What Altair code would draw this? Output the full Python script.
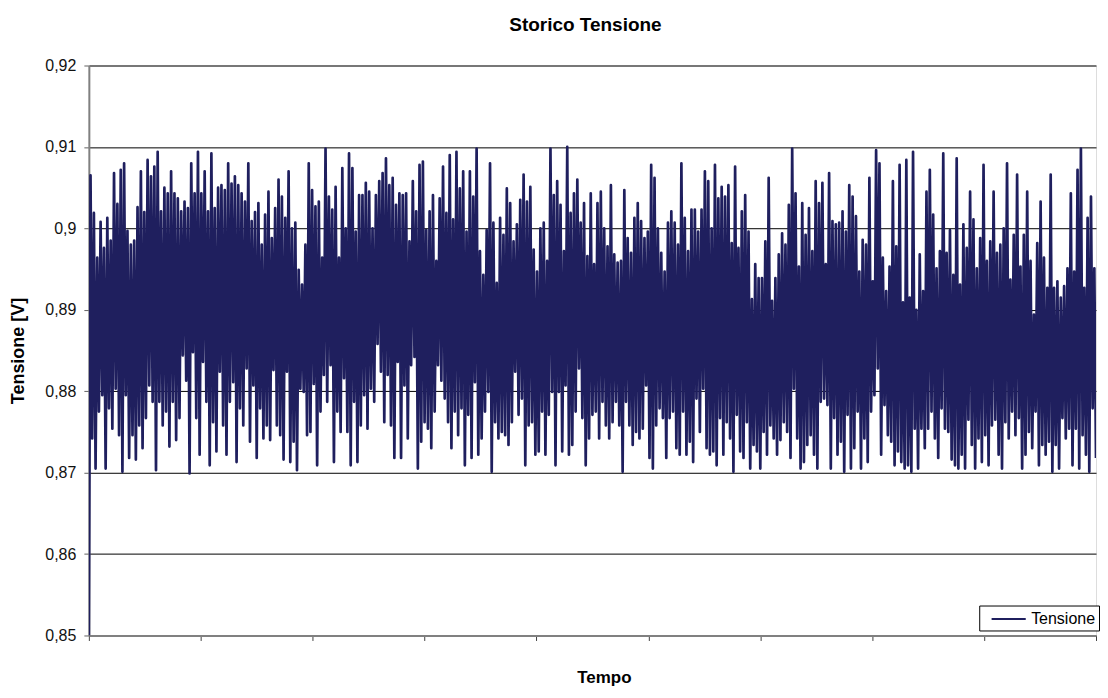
import altair as alt
import pandas as pd

# ---- data (volts) ----
start_value = [0.85]

tops_1 = [0.9065, 0.9019, 0.8964, 0.9008, 0.8976, 0.9013, 0.8985, 0.9068, 0.9030, 0.9072,
          0.9080, 0.8997, 0.8980, 0.8985, 0.9026, 0.9070, 0.9020, 0.9084, 0.9064, 0.9076,
          0.9094, 0.9021, 0.9050, 0.9043, 0.9070, 0.9043, 0.9037, 0.9021, 0.9033, 0.9025,
          0.9080, 0.9043, 0.9094, 0.9043, 0.9070, 0.9021, 0.9092, 0.9025, 0.9050, 0.9053,
          0.9047, 0.9080, 0.9055, 0.9064, 0.9053, 0.9043, 0.9033, 0.9080, 0.9009, 0.9020]
tops_2 = [0.9031, 0.8980, 0.9017, 0.9045, 0.8988, 0.9025, 0.9060, 0.9039, 0.9013, 0.9070,
          0.9000, 0.9007, 0.8949, 0.8931, 0.8980, 0.9080, 0.9047, 0.9027, 0.9033, 0.8964,
          0.9098, 0.9039, 0.9023, 0.9051, 0.8964, 0.9074, 0.9000, 0.9092, 0.9074, 0.8996,
          0.9041, 0.9041, 0.9056, 0.9045, 0.9000, 0.9041, 0.9058, 0.9068, 0.9086, 0.9053,
          0.9062, 0.9029, 0.9043, 0.9041, 0.9043, 0.8984, 0.9058, 0.9021, 0.9078, 0.9082]
tops_3 = [0.8998, 0.9021, 0.9041, 0.8960, 0.9037, 0.9076, 0.9019, 0.9090, 0.9011, 0.9094,
          0.9049, 0.9070, 0.8996, 0.9070, 0.9039, 0.9098, 0.8972, 0.8943, 0.8998, 0.9080,
          0.9007, 0.8933, 0.9013, 0.8992, 0.9049, 0.9031, 0.8984, 0.9005, 0.9035, 0.9066,
          0.9033, 0.9051, 0.8974, 0.8947, 0.9000, 0.9007, 0.8960, 0.9098, 0.9041, 0.9058,
          0.9029, 0.8972, 0.9100, 0.9019, 0.9043, 0.9060, 0.9007, 0.9031, 0.8966, 0.9043]
tops_4 = [0.8956, 0.9031, 0.9045, 0.9000, 0.8978, 0.9053, 0.8968, 0.8958, 0.8960,
          0.9047, 0.8988, 0.8970, 0.9013, 0.9031, 0.9009, 0.8988, 0.8996,
          0.9078, 0.9062, 0.9000, 0.8970, 0.8947, 0.9007, 0.9021, 0.9007,
          0.8980, 0.9080, 0.9013, 0.8972, 0.9023, 0.9023, 0.8996, 0.9023,
          0.9070, 0.9058, 0.9000, 0.9078, 0.9037, 0.9051, 0.9039, 0.9053, 0.8982,
          0.9076, 0.8976, 0.9021, 0.9041, 0.8996, 0.8913, 0.8956, 0.8939]
tops_5 = [0.8939, 0.8984, 0.9062, 0.8911, 0.8939, 0.8968, 0.8994, 0.8980, 0.9029, 0.9098,
          0.9043, 0.8953, 0.9031, 0.8992, 0.9025, 0.8972, 0.9058, 0.9031, 0.9056, 0.8956,
          0.9068, 0.9009, 0.9005, 0.9007, 0.9021, 0.8996, 0.9053, 0.9039, 0.9015, 0.8947,
          0.8986, 0.8980, 0.9062, 0.8935, 0.9096, 0.9080, 0.8964, 0.8923, 0.8953, 0.9058,
          0.8978, 0.9078, 0.8909, 0.9084, 0.8915, 0.9094, 0.8900, 0.8968, 0.8923, 0.9045]
tops_6 = [0.9072, 0.9017, 0.8951, 0.8972, 0.9092, 0.8970, 0.8998, 0.8943, 0.9086, 0.8931,
          0.9005, 0.8976, 0.9045, 0.9011, 0.8951, 0.8988, 0.9078, 0.8960, 0.8984, 0.9045,
          0.8970, 0.8980, 0.9000, 0.9080, 0.8937, 0.8992, 0.9066, 0.8953, 0.8992, 0.9045,
          0.8960, 0.8894, 0.8982, 0.9033, 0.8964, 0.8927, 0.9066, 0.8927, 0.8935, 0.8915,
          0.8929, 0.8951, 0.9043, 0.8947, 0.9072, 0.9098, 0.8927, 0.9013, 0.9039, 0.8951]

bottoms_1 = [0.8742, 0.8705, 0.8775, 0.8795, 0.8705, 0.8779, 0.8754, 0.8803, 0.8746, 0.8701,
             0.8795, 0.8718, 0.8746, 0.8716, 0.8758, 0.8730, 0.8767, 0.8807, 0.8787, 0.8703,
             0.8787, 0.8758, 0.8775, 0.8732, 0.8787, 0.8740, 0.8767, 0.8844, 0.8813, 0.8699,
             0.8848, 0.8767, 0.8722, 0.8836, 0.8787, 0.8709, 0.8762, 0.8726, 0.8824, 0.8758,
             0.8722, 0.8787, 0.8811, 0.8713, 0.8779, 0.8758, 0.8828, 0.8738, 0.8807, 0.8718]
bottoms_2 = [0.8779, 0.8742, 0.8758, 0.8740, 0.8826, 0.8758, 0.8746, 0.8716, 0.8824, 0.8713,
             0.8738, 0.8703, 0.8803, 0.8799, 0.8746, 0.8750, 0.8809, 0.8709, 0.8775, 0.8820,
             0.8787, 0.8832, 0.8713, 0.8775, 0.8750, 0.8816, 0.8750, 0.8709, 0.8787, 0.8713,
             0.8758, 0.8795, 0.8754, 0.8803, 0.8787, 0.8858, 0.8824, 0.8762, 0.8820, 0.8758,
             0.8718, 0.8836, 0.8718, 0.8807, 0.8742, 0.8832, 0.8842, 0.8705, 0.8738, 0.8762]
bottoms_3 = [0.8754, 0.8730, 0.8775, 0.8832, 0.8813, 0.8791, 0.8762, 0.8730, 0.8775, 0.8746,
             0.8779, 0.8709, 0.8771, 0.8718, 0.8811, 0.8722, 0.8742, 0.8775, 0.8799, 0.8701,
             0.8762, 0.8742, 0.8750, 0.8746, 0.8734, 0.8762, 0.8824, 0.8771, 0.8791, 0.8709,
             0.8758, 0.8762, 0.8722, 0.8726, 0.8775, 0.8722, 0.8771, 0.8799, 0.8709, 0.8799,
             0.8726, 0.8807, 0.8722, 0.8734, 0.8775, 0.8828, 0.8767, 0.8709, 0.8742, 0.8771]
bottoms_4 = [0.8775, 0.8742, 0.8787, 0.8758, 0.8742, 0.8762, 0.8787, 0.8758, 0.8701, 0.8787,
             0.8758, 0.8734, 0.8750, 0.8742, 0.8754, 0.8807, 0.8718, 0.8705, 0.8758, 0.8779,
             0.8767, 0.8718, 0.8767, 0.8775, 0.8730, 0.8722, 0.8775, 0.8722, 0.8738, 0.8713,
             0.8791, 0.8750, 0.8803, 0.8730, 0.8722, 0.8726, 0.8709, 0.8767, 0.8722, 0.8762,
             0.8742, 0.8701, 0.8771, 0.8726, 0.8718, 0.8762, 0.8705, 0.8734, 0.8726, 0.8705]
bottoms_5 = [0.8750, 0.8722, 0.8758, 0.8742, 0.8722, 0.8740, 0.8762, 0.8750, 0.8718, 0.8803,
             0.8742, 0.8705, 0.8713, 0.8734, 0.8746, 0.8722, 0.8705, 0.8787, 0.8791, 0.8783,
             0.8705, 0.8767, 0.8722, 0.8738, 0.8701, 0.8771, 0.8705, 0.8730, 0.8775, 0.8705,
             0.8742, 0.8713, 0.8775, 0.8795, 0.8828, 0.8722, 0.8783, 0.8746, 0.8738, 0.8709,
             0.8726, 0.8713, 0.8705, 0.8709, 0.8701, 0.8754, 0.8705, 0.8754, 0.8730, 0.8754]
bottoms_6 = [0.8775, 0.8742, 0.8718, 0.8779, 0.8754, 0.8750, 0.8716, 0.8709, 0.8705, 0.8722,
             0.8705, 0.8765, 0.8734, 0.8705, 0.8742, 0.8713, 0.8746, 0.8709, 0.8758, 0.8765,
             0.8722, 0.8705, 0.8762, 0.8742, 0.8775, 0.8746, 0.8767, 0.8705, 0.8722, 0.8750,
             0.8730, 0.8775, 0.8709, 0.8734, 0.8722, 0.8738, 0.8701, 0.8734, 0.8705, 0.8767,
             0.8742, 0.8754, 0.8709, 0.8754, 0.8705, 0.8746, 0.8722, 0.8701, 0.8779, 0.8718]

y_ticks = [0.85, 0.86, 0.87, 0.88, 0.89, 0.90, 0.91, 0.92]
series_name = "Tensione"

# ---- build the table ----
tops = tops_1 + tops_2 + tops_3 + tops_4 + tops_5 + tops_6
bottoms = bottoms_1 + bottoms_2 + bottoms_3 + bottoms_4 + bottoms_5 + bottoms_6
values = list(start_value)
for t, b in zip(tops, bottoms):
    values.append(t)
    values.append(b)

df = pd.DataFrame({"t": list(range(len(values))), "v": values, "serie": series_name})
n = len(values) - 1
x_ticks = [n * k / 9 for k in range(10)]

font = "Liberation Sans"
navy = "#1f1f5e"

chart = alt.Chart(df).mark_line(strokeWidth=2.7, strokeJoin="round", clip=True).encode(
    x=alt.X("t:Q",
            scale=alt.Scale(domain=[0, n], nice=False, zero=False),
            axis=alt.Axis(title="Tempo", values=x_ticks, labels=False, grid=False,
                          ticks=True, tickSize=5, tickColor="#404040", tickWidth=1,
                          domainColor="#808080", domainWidth=2,
                          titleFont=font, titleFontSize=17, titleFontWeight="bold",
                          titleColor="black", titlePadding=29, titleX=516)),
    y=alt.Y("v:Q",
            scale=alt.Scale(domain=[0.85, 0.92], nice=False, zero=False),
            axis=alt.Axis(title="Tensione [V]", values=y_ticks,
                          labelExpr="replace(format(datum.value, '.2~f'), '.', ',')",
                          labelFont=font, labelFontSize=16, labelColor="#111111",
                          labelPadding=8, tickSize=5, tickColor="#606060",
                          domainColor="#808080", domainWidth=2,
                          grid=True, gridColor="#000000", gridWidth=1,
                          titleFont=font, titleFontSize=18, titleFontWeight="bold",
                          titleColor="black", titlePadding=17)),
    color=alt.Color("serie:N",
                    scale=alt.Scale(domain=[series_name], range=[navy]),
                    legend=alt.Legend(title=None, orient="none", legendX=892, legendY=541,
                                      symbolType="M-1.8,0H1.8", symbolSize=361,
                                      symbolStrokeWidth=2, symbolOffset=16,
                                      labelFont=font, labelFontSize=16,
                                      labelColor="black", labelOffset=12,
                                      strokeColor="black", fillColor="white", padding=3)),
).properties(
    width=1009,
    height=571,
    title=alt.TitleParams(text="Storico Tensione", font=font, fontSize=19, fontWeight="bold",
                          color="black", anchor="middle", frame="group", offset=23, dx=-7),
    padding={"left": 1, "top": 7, "right": 0, "bottom": 0},
).configure_view(strokeWidth=0).configure(background="white")

chart.save("out.html", embed_options={"renderer": "svg", "actions": False})
